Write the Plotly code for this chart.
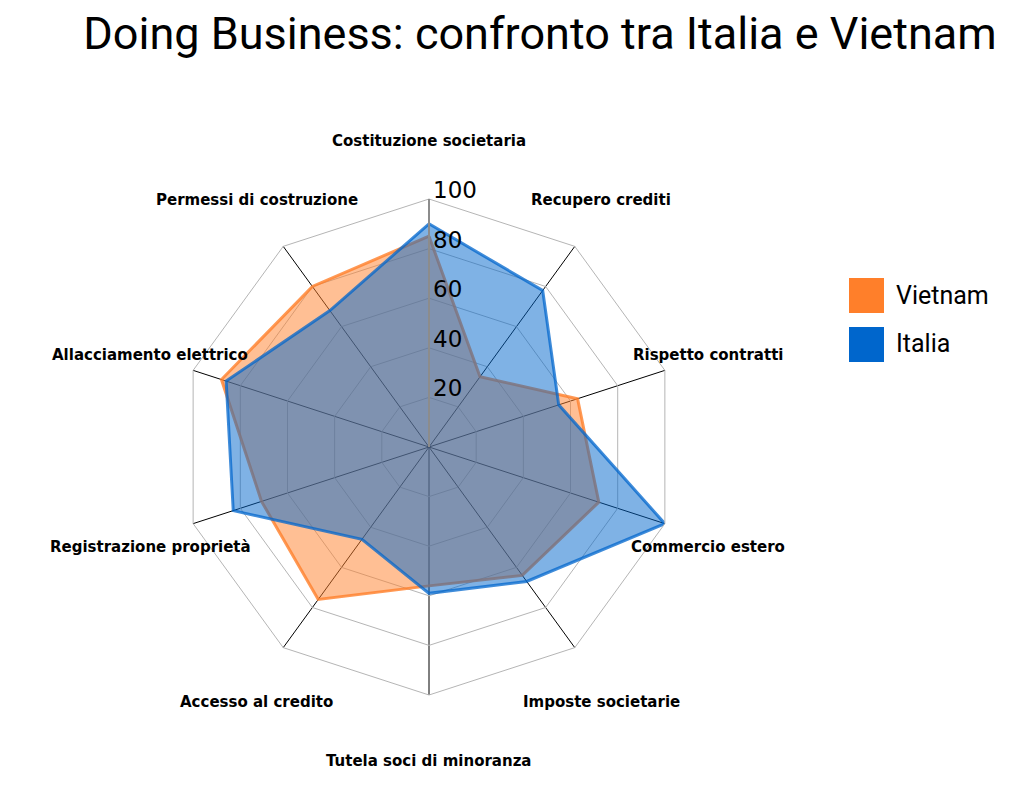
import math
import plotly.graph_objects as go

categories = ["Costituzione societaria", "Recupero crediti", "Rispetto contratti",
              "Commercio estero", "Imposte societarie", "Tutela soci di minoranza",
              "Accesso al credito", "Registrazione proprietà", "Allacciamento elettrico",
              "Permessi di costruzione"]
vietnam = [85, 35, 63, 72, 64, 56, 76, 71, 88, 80]
italia = [90, 78, 55, 100, 67, 59, 46, 83, 86, 68]
radial_ticks = [20, 40, 60, 80, 100]
series_names = ["Vietnam", "Italia"]
series_colors = ["#FF7F2A", "#0066CC"]

W, H = 1021, 794
OFF = 8  # page body margin
CX, CY, R = 429 - OFF, 447 - OFF, 248  # polar centre / radius in px
RMAX = 100

def closed(v):
    return list(v) + [v[0]]

def px_x(x):
    return (x - OFF) / W

def px_y(y):
    return 1 - (y - OFF) / H

fig = go.Figure()
fig.add_trace(go.Scatterpolar(
    r=closed(vietnam), theta=closed(categories), mode="lines", fill="toself",
    fillcolor="rgba(255,127,42,0.5)", line=dict(color="rgba(255,127,42,0.8)", width=3),
    name=series_names[0], showlegend=False, hoverinfo="r+theta"))
fig.add_trace(go.Scatterpolar(
    r=closed(italia), theta=closed(categories), mode="lines", fill="toself",
    fillcolor="rgba(0,102,204,0.5)", line=dict(color="rgba(0,102,204,0.75)", width=3),
    name=series_names[1], showlegend=False, hoverinfo="r+theta"))

annotations = []
shapes = []
n = len(categories)
for i, cat in enumerate(categories):
    th = 2 * math.pi * i / n
    px = CX + 293 * math.sin(th)
    py = CY + 4 - 310 * math.cos(th)
    annotations.append(dict(
        x=px / W, y=1 - py / H, xref="paper", yref="paper", text=cat,
        showarrow=False, xanchor="center", yanchor="middle",
        font=dict(family="DejaVu Sans", size=15, color="black", weight="bold")))

# radial scale labels (sit just above each ring, right of the vertical axis)
for v in radial_ticks:
    ry = CY - R * v / RMAX
    annotations.append(dict(
        x=(CX + 2) / W, y=1 - (ry - 9) / H, xref="paper", yref="paper",
        text=str(v), showarrow=False, xanchor="left", yanchor="middle",
        font=dict(family="DejaVu Sans", size=23, color="black")))

# legend (square swatches + labels)
for k, (name, col) in enumerate(zip(series_names, series_colors)):
    top = 278 + 49 * k
    shapes.append(dict(type="rect", xref="paper", yref="paper",
                       x0=px_x(849), x1=px_x(884), y0=px_y(top + 35), y1=px_y(top),
                       fillcolor=col, line=dict(width=0)))
    annotations.append(dict(
        x=px_x(894), y=px_y(top + 17), xref="paper", yref="paper", text=name,
        showarrow=False, xanchor="left", yanchor="middle",
        font=dict(family="Roboto", size=25, color="black")))

fig.update_layout(
    width=W, height=H,
    margin=dict(l=0, r=0, t=0, b=0),
    paper_bgcolor="white",
    showlegend=False,
    title=dict(text="Doing Business: confronto tra Italia e Vietnam",
               x=px_x(540), xanchor="center", y=px_y(33), yanchor="middle",
               yref="container",
               font=dict(family="Roboto", size=45, color="black")),
    polar=dict(
        domain=dict(x=[(CX - R) / W, (CX + R) / W],
                    y=[(H - CY - R) / H, (H - CY + R) / H]),
        bgcolor="white",
        gridshape="linear",
        radialaxis=dict(range=[0, RMAX], tickvals=radial_ticks, angle=90,
                        showticklabels=False, showline=True, linecolor="#8c8c8c",
                        linewidth=2, gridcolor="#b5b5b5", gridwidth=1, ticks=""),
        angularaxis=dict(direction="clockwise", rotation=90, showticklabels=False,
                         showline=True, linecolor="#b5b5b5", linewidth=1,
                         gridcolor="black", gridwidth=0.8, ticks=""),
    ),
    shapes=shapes,
    annotations=annotations,
)

fig.write_html("out.html")
